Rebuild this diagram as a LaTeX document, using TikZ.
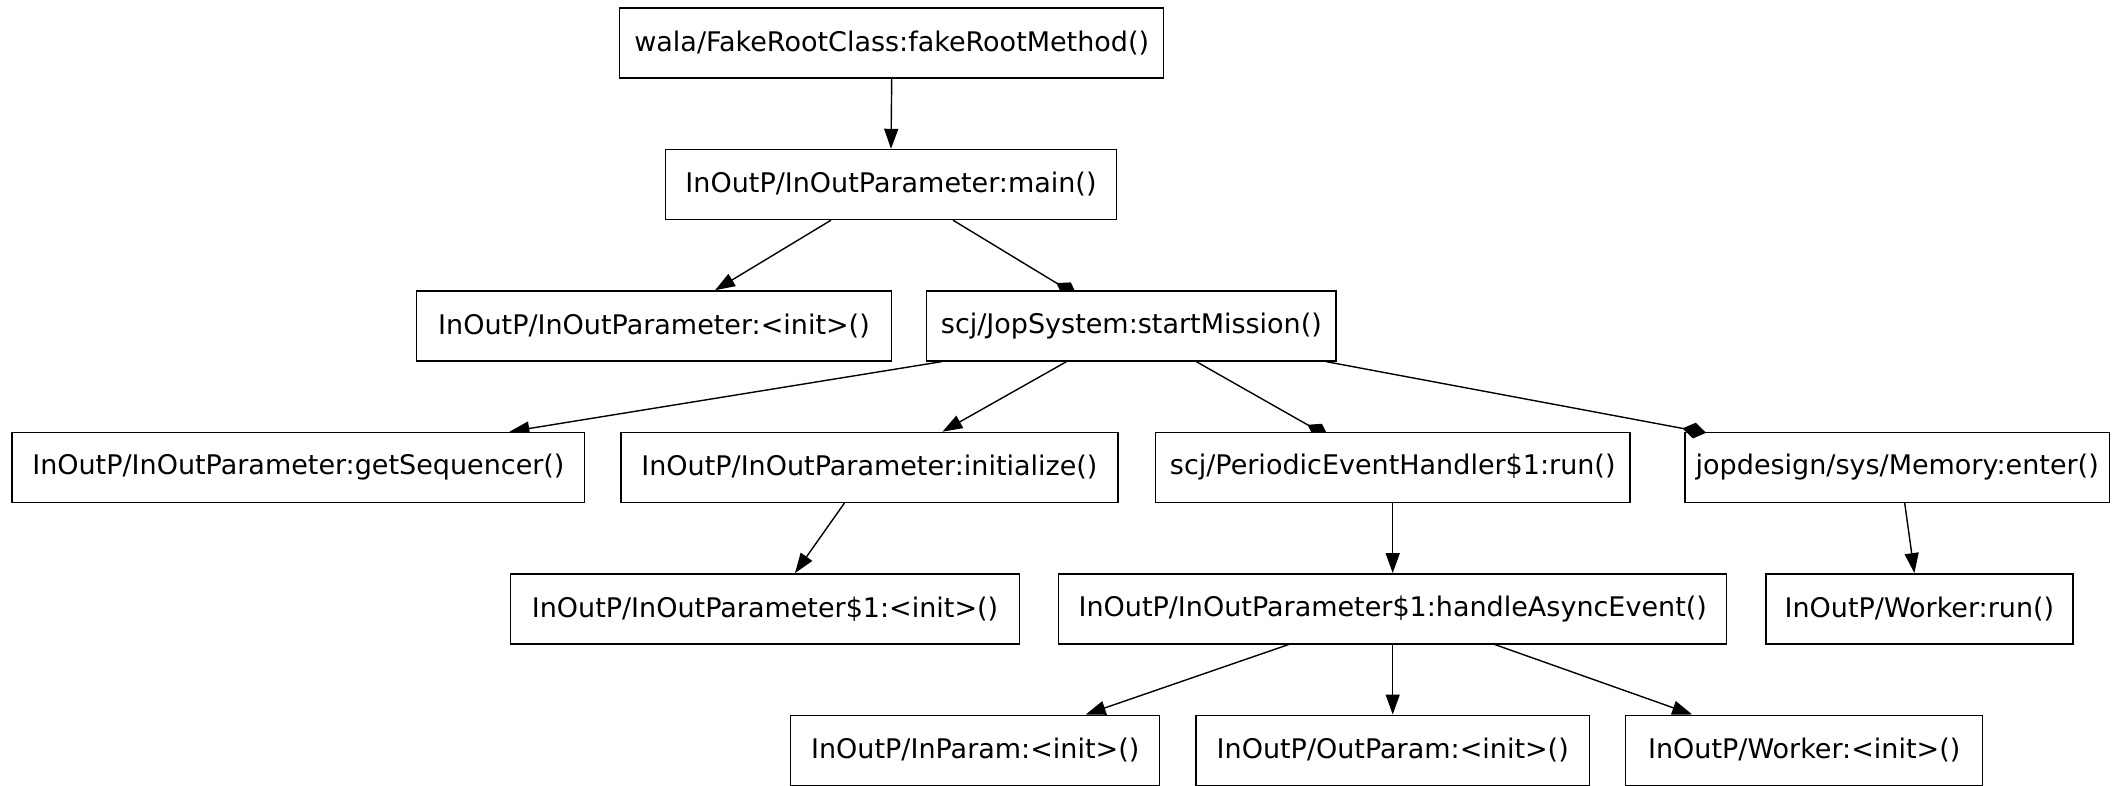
\documentclass[tikz,border=0pt]{standalone}
\usepackage{fontspec}
\setmainfont{DejaVu Sans}
\usetikzlibrary{arrows.meta}
\pgfdeclarelayer{background}
\pgfsetlayers{background,main}
\tikzset{
  callbox/.style={draw, rectangle, fill=white, line width=1.4pt,
    minimum height=70pt, inner sep=0pt,
    font=\fontsize{27}{30}\selectfont},
  call/.style={line width=1.4pt, -{Triangle[length=20pt,width=14pt]}},
  dcall/.style={line width=1.4pt, -{Diamond[length=24pt,width=16pt]}},
}
\begin{document}
\begin{tikzpicture}[x=1pt,y=-1pt]
\useasboundingbox (0,0) rectangle (2112,786);

% call graph nodes
\node[callbox, minimum width=544pt] (root) at (891.7,43.1) {wala/FakeRootClass:fakeRootMethod()};
\node[callbox, minimum width=451pt] (main) at (891,184.5) {InOutP/InOutParameter:main()};
\node[callbox, minimum width=475.5pt] (iopinit) at (654,326) {InOutP/InOutParameter:<init>()};
\node[callbox, minimum width=409.4pt] (start) at (1131.4,326) {scj/JopSystem:startMission()};
\node[callbox, minimum width=572.5pt] (getseq) at (298.4,467.4) {InOutP/InOutParameter:getSequencer()};
\node[callbox, minimum width=497pt] (init) at (869.4,467.4) {InOutP/InOutParameter:initialize()};
\node[callbox, minimum width=474.2pt] (perrun) at (1392.7,467.4) {scj/PeriodicEventHandler\$1:run()};
\node[callbox, minimum width=424.3pt] (mementer) at (1897.2,467.4) {jopdesign/sys/Memory:enter()};
\node[callbox, minimum width=509pt] (iopinit1) at (765,608.8) {InOutP/InOutParameter\$1:<init>()};
\node[callbox, minimum width=668pt] (handle) at (1392.7,608.8) {InOutP/InOutParameter\$1:handleAsyncEvent()};
\node[callbox, minimum width=307pt] (wrun) at (1919.4,608.8) {InOutP/Worker:run()};
\node[callbox, minimum width=369pt] (inparam) at (975.2,750.2) {InOutP/InParam:<init>()};
\node[callbox, minimum width=393.3pt] (outparam) at (1392.7,750.2) {InOutP/OutParam:<init>()};
\node[callbox, minimum width=357pt] (winit) at (1804.2,750.2) {InOutP/Worker:<init>()};

% call edges, drawn beneath the boxes
\begin{pgfonlayer}{background}
\draw[call] (root.south) -- (main.north);
\draw[call] ([xshift=-60pt]main.south) -- ([xshift=61pt]iopinit.north);
\draw[dcall, shorten >=-10pt] ([xshift=62pt]main.south) -- ([xshift=-63pt]start.north);
\draw[call] ([xshift=-190pt]start.south) -- ([xshift=211pt]getseq.north);
\draw[call] ([xshift=-65pt]start.south) -- ([xshift=73pt]init.north);
\draw[dcall, shorten >=-10pt] ([xshift=65pt]start.south) -- ([xshift=-73pt]perrun.north);
\draw[call] ([xshift=-25pt]init.south) -- ([xshift=30pt]iopinit1.north);
\draw[call] (perrun.south) -- (handle.north);
\draw[call] ([xshift=7.5pt]mementer.south) -- ([xshift=-5pt]wrun.north);
\draw[call] ([xshift=-104pt]handle.south) -- ([xshift=110.5pt]inparam.north);
\draw[call] (handle.south) -- (outparam.north);
\draw[call] ([xshift=102pt]handle.south) -- ([xshift=-112pt]winit.north);
\end{pgfonlayer}
% this tip sits over the corner of its box
\draw[dcall, shorten >=-6pt] ([xshift=195pt]start.south) -- ([xshift=-197pt]mementer.north);
\end{tikzpicture}
\end{document}
